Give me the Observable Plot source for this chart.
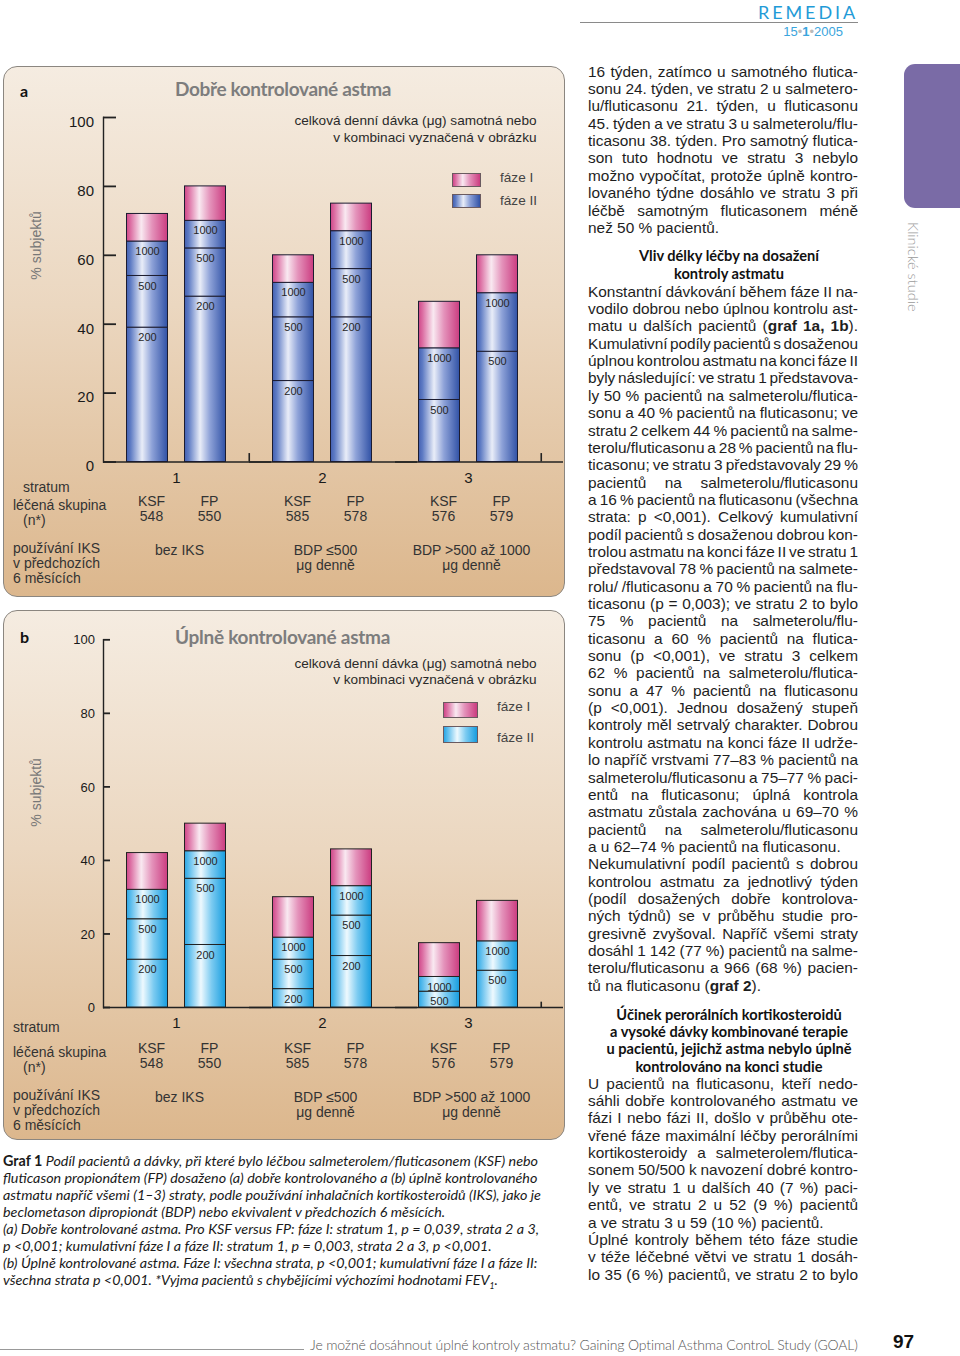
<!DOCTYPE html>
<html><head><meta charset="utf-8">
<script src="https://cdn.jsdelivr.net/npm/d3@7"></script>
<script src="https://cdn.jsdelivr.net/npm/@observablehq/plot@0.6"></script>
<style>
body{margin:0;background:#fff;}
#page{position:relative;width:960px;height:1356px;overflow:hidden;font-family:"Liberation Sans",Arial,sans-serif;color:#222;}
.abs{position:absolute;white-space:nowrap;}
.panel{position:absolute;left:3px;width:562px;border:1.5px solid #8b8680;border-radius:14px;box-sizing:border-box;
  background:linear-gradient(to bottom,#f5ece1 0%,#ebd7c0 45%,#dcb78d 100%);}
.sw{position:absolute;border:1px solid #6a5a60;box-sizing:border-box;}
.plotwrap{position:absolute;left:0;}
</style></head>
<body><div id="page"></div>
<script>
// ------------------------------ DATA ------------------------------
const strata = ["1", "2", "3"];
const arms = ["KSF", "FP"];
const patientsN = [548, 550, 585, 578, 576, 579];           // s1 KSF, s1 FP, s2 KSF, s2 FP, s3 KSF, s3 FP
const iksUse = ["bez IKS", "BDP ≤500\nμg denně", "BDP >500 až 1000\nμg denně"];
const yTicks = [0, 20, 40, 60, 80, 100];
const doseLabels = [["200","500","1000"],["200","500","1000"],["200","500","1000"],["200","500","1000"],["500","1000"],["500","1000"]];
// Graf 1a – dobře kontrolované astma: cumulative % at top of each dose segment, then total (top of fáze I segment)
const doseTopsA = [[39,54,64],[48,62,70],[23.5,42,52],[42,56,67],[18,33],[32,49]];
const totalA    = [72, 80, 60, 75, 46.5, 60];
// Graf 1b – úplně kontrolované astma
const doseTopsB = [[13,24,32],[17,35,42.5],[5,13,19],[14,25,33],[4.3,8.3],[10,18]];
const totalB    = [42, 50, 30, 43, 17.5, 29];

// ------------------------------ helpers ------------------------------
const SANS = "'Liberation Sans', Arial, Helvetica, sans-serif";
const FUT = "Lato, 'Open Sans', sans-serif";
const page = document.getElementById("page");

function addText(html, x, yc, o = {}) {
  const size = o.size || 14;
  const d = document.createElement("div");
  d.className = "abs";
  d.innerHTML = html;
  Object.assign(d.style, {
    left: x + "px", top: (yc - size * 0.6) + "px", fontSize: size + "px", lineHeight: (size * 1.2) + "px",
    fontFamily: o.family || SANS, fontWeight: o.weight || 400, fontStyle: o.italic ? "italic" : "normal",
    color: o.color || "#222"
  });
  if (o.anchor === "middle") d.style.transform = "translateX(-50%)";
  if (o.anchor === "end") d.style.transform = "translateX(-100%)";
  if (o.rotate) { d.style.transformOrigin = "0 50%"; d.style.transform = `rotate(${o.rotate}deg) translateX(-50%)`; }
  page.appendChild(d);
  if (o.width) fitWidth(d, o.width);
  return d;
}
function fitWidth(el, target) {
  const w = el.getBoundingClientRect().width;
  const n = el.textContent.length;
  el.style.letterSpacing = ((target - w) / n) + "px";
}
function addBox(cls, x, y, w, h, css) {
  const d = document.createElement("div");
  d.className = cls;
  Object.assign(d.style, {left: x + "px", top: y + "px", width: w + "px", height: h + "px"}, css || {});
  page.appendChild(d);
  return d;
}
function cssGrad(stops) { return "linear-gradient(to right," + stops.map(s => `${s[1]} ${s[0]*100}%`).join(",") + ")"; }
function svgGrad(id, stops) {
  return `<linearGradient id="${id}" x1="0" y1="0" x2="1" y2="0">` +
    stops.map(s => `<stop offset="${s[0]}" stop-color="${s[1]}"/>`).join("") + `</linearGradient>`;
}
const pinkStops = [[0,"#cf4688"],[0.1,"#dc6ea3"],[0.36,"#f9e9f1"],[0.62,"#e493bb"],[1,"#cb3c80"]];
const blueStops = [[0,"#4360b2"],[0.1,"#5f7cc4"],[0.38,"#e9edf8"],[0.62,"#8ea2d8"],[1,"#3152a6"]];
const cyanStops = [[0,"#2ba6e4"],[0.1,"#58bbec"],[0.4,"#eef9fe"],[0.66,"#7ccbf1"],[1,"#179ddf"]];

function buildBars(doseTops, totals) {
  const blue = [], pink = [];
  strata.forEach((s, si) => arms.forEach((a, ai) => {
    const i = si * 2 + ai;
    let prev = 0;
    doseTops[i].forEach((t, k) => { blue.push({stratum: s, arm: a, y1: prev, y2: t, dose: doseLabels[i][k]}); prev = t; });
    pink.push({stratum: s, arm: a, y1: prev, y2: totals[i]});
  }));
  return {blue, pink};
}
const armRows = strata.flatMap((s, si) => arms.map((a, ai) => ({stratum: s, arm: a, n: String(patientsN[si * 2 + ai])})));
const strataRows = strata.map((s, i) => ({stratum: s, iks: iksUse[i]}));

function drawPanel(cfg) {
  const {blue, pink} = buildBars(cfg.doseTops, cfg.totals);
  const id = cfg.id;
  const svg = Plot.plot({
    width: 565, height: cfg.height,
    marginTop: cfg.marginTop, marginBottom: cfg.marginBottom, marginLeft: 101.5, marginRight: 23.5,
    style: {background: "transparent", fontFamily: SANS, color: "#222", overflow: "visible"},
    fx: {domain: strata, paddingInner: 0, paddingOuter: 0, axis: null},
    x: {domain: arms, paddingInner: 0.288, paddingOuter: 0.3856, axis: null},
    y: {domain: [0, 100], axis: null},
    marks: [
      Plot.frame({anchor: "left", facetAnchor: "left", stroke: "#222", strokeWidth: 1.4}),
      Plot.axisY(yTicks, {tickSize: cfg.tickLen, dx: cfg.tickLen, fill: "none", stroke: "#222", strokeWidth: 1.8, label: null}),
      Plot.axisY(yTicks, {tickSize: 0, tickPadding: cfg.labelPad, stroke: "none", fill: "#1a1a1a", fontSize: cfg.tickFont, dy: cfg.tickDy, label: null}),
      Plot.ruleY([0], {stroke: "#222", strokeWidth: 1.6, insetRight: -22}),
      Plot.ruleX(cfg.endTicks, {fx: d => d, x: () => "FP", dx: 43.75, y1: 0, y2: cfg.endTickH, stroke: "#222", strokeWidth: 1.6}),
      Plot.barY(blue, {fx: "stratum", x: "arm", y1: "y1", y2: "y2", fill: `url(#${id}-blue)`, stroke: cfg.barStroke, strokeWidth: 1}),
      Plot.barY(pink, {fx: "stratum", x: "arm", y1: "y1", y2: "y2", fill: `url(#${id}-pink)`, stroke: cfg.barStroke, strokeWidth: 1}),
      Plot.text(blue, {fx: "stratum", x: "arm", y: "y2", text: "dose", dy: 10, fontSize: 11, fill: "#262626"}),
      Plot.text(strataRows, {fx: "stratum", text: "stratum", frameAnchor: "bottom", dy: cfg.rowDy[0], fontSize: 15, fill: "#1a1a1a"}),
      Plot.text(armRows, {fx: "stratum", x: "arm", text: "arm", frameAnchor: "bottom", dy: cfg.rowDy[1], dx: 4, fontSize: 14, fill: "#333"}),
      Plot.text(armRows, {fx: "stratum", x: "arm", text: "n", frameAnchor: "bottom", dy: cfg.rowDy[2], dx: 4, fontSize: 14, fill: "#333"}),
      Plot.text(strataRows, {fx: "stratum", text: "iks", frameAnchor: "bottom", lineAnchor: "top", dy: cfg.rowDy[3], dx: 3, lineHeight: 1.1, fontSize: 14, fill: "#333"})
    ]
  });
  const defs = document.createElementNS("http://www.w3.org/2000/svg", "defs");
  defs.innerHTML = svgGrad(id + "-blue", cfg.blueStops) + svgGrad(id + "-pink", pinkStops);
  svg.insertBefore(defs, svg.firstChild);
  const wrap = document.createElement("div");
  wrap.className = "plotwrap";
  wrap.style.top = cfg.top + "px";
  wrap.appendChild(svg);
  page.appendChild(wrap);
}

// ------------------------------ PANEL A ------------------------------
addBox("panel", 3, 66, 562, 531);
drawPanel({id: "ga", top: 66, height: 531, marginTop: 51, marginBottom: 135.5, doseTops: doseTopsA, totals: totalA,
  blueStops, barStroke: "#1c1c30", tickLen: 13, labelPad: 9.5, tickFont: 15, tickDy: 4.5,
  endTicks: ["1", "3"], endTickH: 2.45, rowDy: [20.8, 43.5, 59.2, 81.6]});
addText("a", 20, 91, {size: 16, family: FUT, weight: 700, color: "#111"});
addText("Dobře kontrolované astma", 283, 89.5, {size: 19, family: FUT, weight: 700, color: "#7d7d7d", anchor: "middle", width: 216});
addText("celková denní dávka (μg) samotná nebo", 536.5, 121.5, {size: 13.6, anchor: "end", color: "#2a2a2a"});
addText("v kombinaci vyznačená v obrázku", 536.5, 138.3, {size: 13.6, anchor: "end", color: "#2a2a2a"});
addBox("sw", 452, 173, 29, 14, {background: cssGrad(pinkStops)});
addBox("sw", 452, 194, 29, 14, {background: cssGrad(blueStops)});
addText("fáze I", 500, 178, {size: 13.6, color: "#444"});
addText("fáze II", 500, 201.5, {size: 13.6, color: "#444"});
addText("% subjektů", 36, 245, {size: 14, color: "#777", rotate: -90});
addText("stratum", 23, 487, {size: 14, color: "#333"});
addText("léčená skupina", 13, 505, {size: 14, color: "#333"});
addText("(n*)", 23, 520.5, {size: 14, color: "#333"});
addText("používání IKS", 13, 548, {size: 14, color: "#333"});
addText("v předchozích", 13, 563, {size: 14, color: "#333"});
addText("6 měsících", 13, 578, {size: 14, color: "#333"});

// ------------------------------ PANEL B ------------------------------
addBox("panel", 3, 610, 562, 530);
drawPanel({id: "gb", top: 610, height: 530, marginTop: 29.3, marginBottom: 133, doseTops: doseTopsB, totals: totalB,
  blueStops: cyanStops, barStroke: "#222", tickLen: 7, labelPad: 8.5, tickFont: 13, tickDy: 0.5,
  endTicks: ["3"], endTickH: 1.45, rowDy: [20, 45.7, 60.5, 83.1]});
addText("b", 20, 637, {size: 16, family: FUT, weight: 700, color: "#111"});
addText("Úplně kontrolované astma", 282.5, 637, {size: 19, family: FUT, weight: 700, color: "#7d7d7d", anchor: "middle", width: 215});
addText("celková denní dávka (μg) samotná nebo", 536.5, 664, {size: 13.6, anchor: "end", color: "#2a2a2a"});
addText("v kombinaci vyznačená v obrázku", 536.5, 680, {size: 13.6, anchor: "end", color: "#2a2a2a"});
addBox("sw", 443, 702, 35, 16, {background: cssGrad(pinkStops)});
addBox("sw", 443, 726, 35, 17, {background: cssGrad(cyanStops)});
addText("fáze I", 497, 707, {size: 13.6, color: "#444"});
addText("fáze II", 497, 738, {size: 13.6, color: "#444"});
addText("% subjektů", 36, 792, {size: 14, color: "#777", rotate: -90});
addText("stratum", 13, 1027.5, {size: 14, color: "#333"});
addText("léčená skupina", 13, 1052.5, {size: 14, color: "#333"});
addText("(n*)", 23, 1067.5, {size: 14, color: "#333"});
addText("používání IKS", 13, 1095, {size: 14, color: "#333"});
addText("v předchozích", 13, 1110, {size: 14, color: "#333"});
addText("6 měsících", 13, 1125.5, {size: 14, color: "#333"});

// ------------------------------ CAPTION ------------------------------
const capLines = [
  "<b style='font-style:normal'>Graf 1</b> Podíl pacientů a dávky, při které bylo léčbou salmeterolem/fluticasonem (KSF) nebo",
  "fluticason propionátem (FP) dosaženo (a) dobře kontrolovaného a (b) úplně kontrolovaného",
  "astmatu napříč všemi (1–3) straty, podle používání inhalačních kortikosteroidů (IKS), jako je",
  "beclometason dipropionát (BDP) nebo ekvivalent v předchozích 6 měsících.",
  "(a) Dobře kontrolované astma. Pro KSF versus FP: fáze I: stratum 1, p = 0,039, strata 2 a 3,",
  "p &lt;0,001; kumulativní fáze I a fáze II: stratum 1, p = 0,003, strata 2 a 3, p &lt;0,001.",
  "(b) Úplně kontrolované astma. Fáze I: všechna strata, p &lt;0,001; kumulativní fáze I a fáze II:",
  "všechna strata p &lt;0,001. *Vyjma pacientů s chybějícími výchozími hodnotami FEV<sub style='font-size:60%'>1</sub>."
];
const capEls = capLines.map((h, i) => addText(h, 3, 1160.5 + i * 17, {size: 13, family: FUT, italic: true, color: "#1a1a1a"}));
{
  const w = capEls[2].getBoundingClientRect().width;
  const fs = 13 * 538 / w;
  capEls.forEach((el, i) => { el.style.fontSize = fs + "px"; el.style.lineHeight = (fs * 1.2) + "px"; el.style.top = (1160.5 + i * 17 - fs * 0.6) + "px"; });
}

// ------------------------------ RIGHT COLUMN ------------------------------
const COLX = 588, COLW = 270, STEP = 17.35;
const colBlocks = [];
function bodyLines(lines, y0) { colBlocks.push({lines, y0}); }
function headLines(lines, y0) {
  lines.forEach((t, i) => addText(t, 729, y0 + i * STEP, {size: 14.6, family: FUT, weight: 700, color: "#111", anchor: "middle"}));
}
function renderBody() {
  const probe = [];
  colBlocks.forEach(b => b.lines.forEach(ln => { if (ln.startsWith("J|")) probe.push(ln.slice(2)); }));
  const ratios = probe.map(h => {
    const el = addText(h, 0, 300, {size: 14});
    const r = COLW / el.getBoundingClientRect().width; el.remove(); return r;
  }).sort((a, b) => a - b);
  const size = Math.min(15.6, 14 * ratios[Math.floor(ratios.length * 0.35)]);
  colBlocks.forEach(({lines, y0}) => lines.forEach((ln, i) => {
    const left = ln.startsWith("L|");
    const html = ln.replace(/^[JL]\|/, "");
    const el = addText(html, COLX, y0 + i * STEP, {size, color: "#1e1e1e"});
    const w = el.getBoundingClientRect().width;
    const n = (el.textContent.match(/ /g) || []).length;
    if (!left && n > 0) {
      let ws = (COLW - w) / n;
      if (ws < -1.5) { el.style.letterSpacing = ((COLW - w + 1.5 * n) / el.textContent.length) + "px"; ws = -1.5; }
      el.style.wordSpacing = ws + "px";
    } else if (w > COLW) {
      el.style.letterSpacing = ((COLW - w) / el.textContent.length) + "px";
    }
  }));
}
bodyLines([
  "J|16 týden, zatímco u samotného flutica-",
  "J|sonu 24. týden, ve stratu 2 u salmetero-",
  "J|lu/fluticasonu 21. týden, u fluticasonu",
  "J|45. týden a ve stratu 3 u salmeterolu/flu-",
  "J|ticasonu 38. týden. Pro samotný flutica-",
  "J|son tuto hodnotu ve stratu 3 nebylo",
  "J|možno vypočítat, protože úplně kontro-",
  "J|lovaného týdne dosáhlo ve stratu 3 při",
  "J|léčbě samotným fluticasonem méně",
  "L|než 50 % pacientů."
], 72);
headLines(["Vliv délky léčby na dosažení", "kontroly astmatu"], 256);
bodyLines([
  "J|Konstantní dávkování během fáze II na-",
  "J|vodilo dobrou nebo úplnou kontrolu ast-",
  "J|matu u dalších pacientů (<b>graf 1a, 1b</b>).",
  "J|Kumulativní podíly pacientů s dosaženou",
  "J|úplnou kontrolou astmatu na konci fáze II",
  "J|byly následující: ve stratu 1 představova-",
  "J|ly 50 % pacientů na salmeterolu/flutica-",
  "J|sonu a 40 % pacientů na fluticasonu; ve",
  "J|stratu 2 celkem 44 % pacientů na salme-",
  "J|terolu/fluticasonu a 28 % pacientů na flu-",
  "J|ticasonu; ve stratu 3 představovaly 29 %",
  "J|pacientů na salmeterolu/fluticasonu",
  "J|a 16 % pacientů na fluticasonu (všechna",
  "J|strata: p &lt;0,001). Celkový kumulativní",
  "J|podíl pacientů s dosaženou dobrou kon-",
  "J|trolou astmatu na konci fáze II ve stratu 1",
  "J|představoval 78 % pacientů na salmete-",
  "J|rolu/ /fluticasonu a 70 % pacientů na flu-",
  "J|ticasonu (p = 0,003); ve stratu 2 to bylo",
  "J|75 % pacientů na salmeterolu/flu-",
  "J|ticasonu a 60 % pacientů na flutica-",
  "J|sonu (p &lt;0,001), ve stratu 3 celkem",
  "J|62 % pacientů na salmeterolu/flutica-",
  "J|sonu a 47 % pacientů na fluticasonu",
  "J|(p &lt;0,001). Jednou dosažený stupeň",
  "J|kontroly měl setrvalý charakter. Dobrou",
  "J|kontrolu astmatu na konci fáze II udrže-",
  "J|lo napříč vrstvami 77–83 % pacientů na",
  "J|salmeterolu/fluticasonu a 75–77 % paci-",
  "J|entů na fluticasonu; úplná kontrola",
  "J|astmatu zůstala zachována u 69–70 %",
  "J|pacientů na salmeterolu/fluticasonu",
  "L|a u 62–74 % pacientů na fluticasonu.",
  "J|Nekumulativní podíl pacientů s dobrou",
  "J|kontrolou astmatu za jednotlivý týden",
  "J|(podíl dosažených dobře kontrolova-",
  "J|ných týdnů) se v průběhu studie pro-",
  "J|gresivně zvyšoval. Napříč všemi straty",
  "J|dosáhl 1 142 (77 %) pacientů na salme-",
  "J|terolu/fluticasonu a 966 (68 %) pacien-",
  "L|tů na fluticasonu (<b>graf 2</b>)."
], 292);
headLines(["Účinek perorálních kortikosteroidů", "a vysoké dávky kombinované terapie",
  "u pacientů, jejichž astma nebylo úplně", "kontrolováno na konci studie"], 1014.5);
bodyLines([
  "J|U pacientů na fluticasonu, kteří nedo-",
  "J|sáhli dobře kontrolovaného astmatu ve",
  "J|fázi I nebo fázi II, došlo v průběhu ote-",
  "J|vřené fáze maximální léčby perorálními",
  "J|kortikosteroidy a salmeterolem/flutica-",
  "J|sonem 50/500 k navození dobré kontro-",
  "J|ly ve stratu 1 u dalších 40 (7 %) paci-",
  "J|entů, ve stratu 2 u 52 (9 %) pacientů",
  "L|a ve stratu 3 u 59 (10 %) pacientů.",
  "J|Úplné kontroly během této fáze studie",
  "J|v téže léčebné větvi ve stratu 1 dosáh-",
  "J|lo 35 (6 %) pacientů, ve stratu 2 to bylo"
], 1084);
renderBody();

// ------------------------------ HEADER / FOOTER / TAB ------------------------------
{
  const logo = addText("REMEDIA", 858, 10, {size: 18, family: FUT, weight: 400, color: "#1f9bd7", anchor: "end", width: 100});
  logo.style.top = "3px";
  logo.style.lineHeight = "18px";
}
addBox("abs", 580, 21.5, 278, 1, {background: "#8a8a8a"});
addText("15<span style='color:#bbb'>•</span><b>1</b><span style='color:#bbb'>•</span>2005", 843, 32, {size: 13, color: "#3aa5dd", anchor: "end"});
addBox("abs", 904, 64, 70, 144, {background: "#7a6ba6", borderRadius: "11px"});
addText("Klinické studie", 913, 267, {size: 14.5, family: FUT, weight: 300, color: "#9a9a9a", rotate: 90});
addBox("abs", 0, 1348.5, 304, 1, {background: "#999"});
addText("Je možné dosáhnout úplné kontroly astmatu? Gaining Optimal Asthma ControL Study (GOAL)", 310, 1345, {size: 14, family: FUT, weight: 300, color: "#555", width: 548});
addText("97", 893, 1342, {size: 19, weight: 700, color: "#111"});
</script>
</body></html>
